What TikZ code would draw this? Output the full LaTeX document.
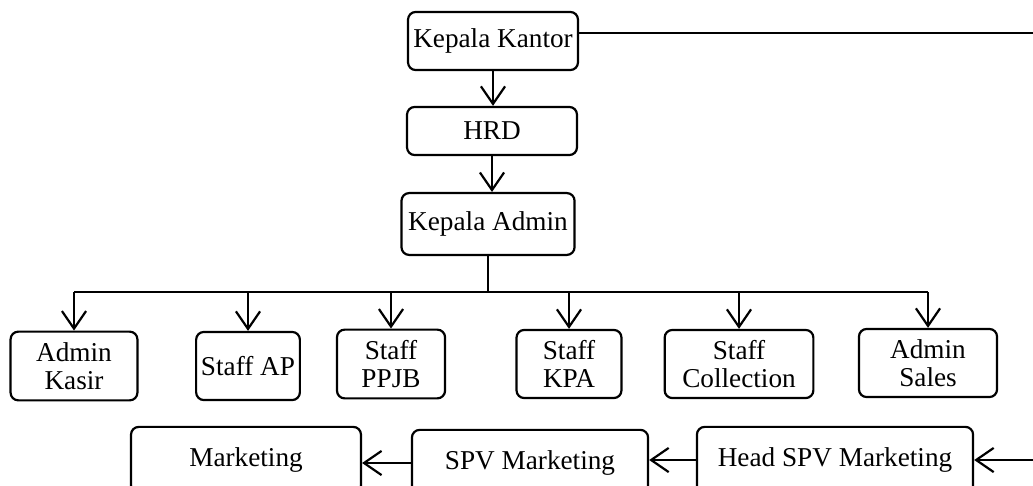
\documentclass[tikz,border=0pt]{standalone}
\usepackage{fontspec}
\setmainfont{Liberation Serif}
\usetikzlibrary{positioning,calc,arrows.meta}

\begin{document}
\begin{tikzpicture}[x=0.016cm,y=-0.016cm,
		unit/.style={draw=black,rounded corners=3.5pt,line width=1pt,align=center,inner sep=1pt,font=\fontsize{12.4}{13}\selectfont},
		link/.style={line width=1pt},
		arr/.style={link,-{Straight Barb[length=8pt,width=11pt,line width=1pt]}}]
		\useasboundingbox (0,0) rectangle (1033,485);
		\clip (0,0) rectangle (1033,485);
		
		\node[unit,minimum width=2.72cm,minimum height=0.93cm] (kk) at (493,41) {Kepala Kantor};
		\node[unit,minimum width=2.72cm,minimum height=0.77cm] (hrd) at (492,131) {HRD};
		\node[unit,minimum width=2.77cm,minimum height=0.99cm] (ka) at (488,224) {Kepala Admin};
		
		\node[unit,minimum width=2.03cm,minimum height=1.1cm] (kasir) at (74,366) {Admin\\Kasir};
		\node[unit,minimum width=1.66cm,minimum height=1.09cm] (ap) at (248,366) {Staff AP};
		\node[unit,minimum width=1.73cm,minimum height=1.1cm] (ppjb) at (391,364) {Staff\\PPJB};
		\node[unit,minimum width=1.68cm,minimum height=1.09cm] (kpa) at (569,364) {Staff\\KPA};
		\node[unit,minimum width=2.38cm,minimum height=1.09cm] (coll) at (739,364) {Staff\\Collection};
		\node[unit,minimum width=2.21cm,minimum height=1.09cm] (sales) at (928,363) {Admin\\Sales};
		
		\node[unit,minimum width=3.68cm,minimum height=1.06cm] (mkt) at (246,460) {Marketing};
		\node[unit,minimum width=3.78cm,minimum height=1.06cm] (spv) at (530,463) {SPV Marketing};
		\node[unit,minimum width=4.42cm,minimum height=1.06cm] (head) at (835,460) {Head SPV Marketing};
		
		\coordinate (bus) at (0,292);
		\coordinate (rt) at (1045,0);
		
		\draw[arr] (kk.south) -- (kk.south |- hrd.north);
		\draw[arr] (hrd.south) -- (hrd.south |- ka.north);
		\draw[link] (ka.south) -- (ka.south |- bus);
		\draw[link] (kasir |- bus) -- (sales |- bus);
		\foreach \n in {kasir,ap,ppjb,kpa,coll,sales}
			\draw[arr] (\n |- bus) -- (\n.north);
		
		\draw[arr] ($(kk.east)+(0,-8)$) -| (rt |- head.east) -- (head.east);
		\draw[arr] (head.west) -- (head.west -| spv.east);
		\draw[arr] (spv.west) -- (spv.west -| mkt.east);
	\end{tikzpicture}
\end{document}
